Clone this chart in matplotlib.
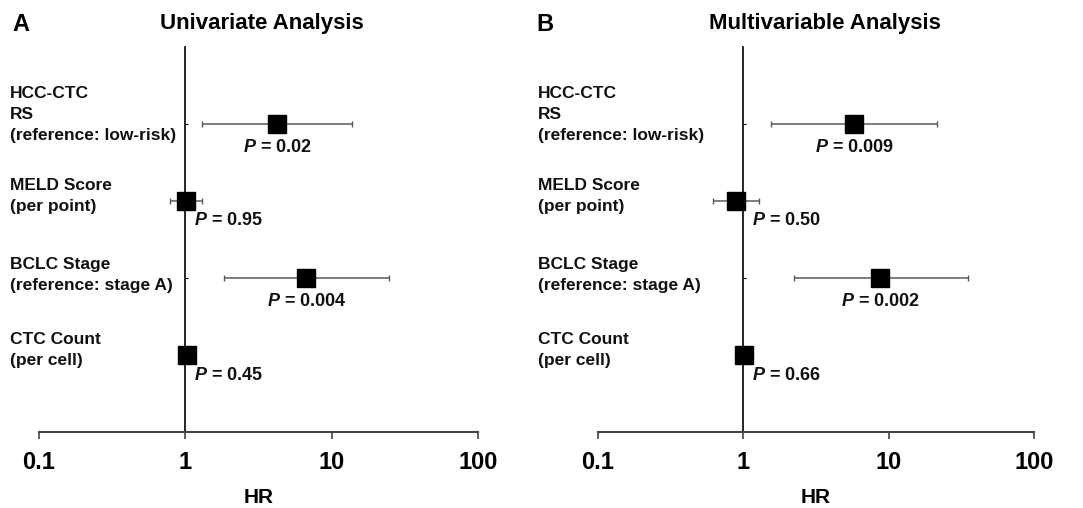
import matplotlib
matplotlib.use("Agg")
import matplotlib.pyplot as plt
import matplotlib.transforms as mtransforms

plt.rcParams['font.family'] = ['Liberation Sans', 'DejaVu Sans']
plt.rcParams['font.weight'] = 'bold'
plt.rcParams['mathtext.fontset'] = 'custom'
plt.rcParams['mathtext.bfit'] = 'Liberation Sans:italic:bold'
plt.rcParams['mathtext.rm'] = 'Liberation Sans:bold'

# data
row_labels = ["HCC-CTC\nRS\n(reference: low-risk)",
              "MELD Score\n(per point)",
              "BCLC Stage\n(reference: stage A)",
              "CTC Count\n(per cell)"]

uni_hr = [4.25, 1.01, 6.7, 1.02]
uni_lo = [1.31, 0.79, 1.85, 0.96]
uni_hi = [13.8, 1.31, 24.8, 1.08]
uni_p = ["0.02", "0.95", "0.004", "0.45"]

multi_hr = [5.8, 0.89, 8.75, 1.01]
multi_lo = [1.56, 0.62, 2.24, 0.96]
multi_hi = [21.5, 1.29, 35.2, 1.06]
multi_p = ["0.009", "0.50", "0.002", "0.66"]

tick_vals = [0.1, 1, 10, 100]
tick_labels = ["0.1", "1", "10", "100"]

fig = plt.figure(figsize=(10.83, 5.08), dpi=100)
fig.patch.set_facecolor('white')

ax_uni = fig.add_axes([0.036, 0.1496, 0.4054, 0.7579])
ax_multi = fig.add_axes([0.5522, 0.1496, 0.4026, 0.7579])

# offsets in points (label block shift, p-text shift)
label_shift = [7, 3.5, 2.5, 3.5]
p_shift = [-17, -14, -17, -15]


def draw_panel(ax, hr, lo, hi, pvals, label_x):
    rows = [1, 2, 3, 4]
    xerr = [[h - l for h, l in zip(hr, lo)], [u - h for h, u in zip(hr, hi)]]
    ax.errorbar(hr, rows, xerr=xerr, fmt='none', ecolor='#5a5a5a',
                elinewidth=1.1, capsize=2.5, capthick=1.0, zorder=2)
    ax.plot(hr, rows, 's', color='black', markersize=13, zorder=3)

    ax.set_xscale('log')
    ax.set_xlim(0.1, 100)
    ax.set_ylim(5, 0)
    ax.set_xticks(tick_vals)
    ax.set_xticklabels(tick_labels, fontsize=17, fontweight='bold')
    ax.minorticks_off()
    ax.tick_params(axis='x', direction='out', length=5, width=1.2,
                   color='#444444', pad=9)
    ax.set_yticks(rows)
    ax.set_yticklabels([])
    ax.tick_params(axis='y', direction='in', length=2, width=0.8)

    ax.spines['top'].set_visible(False)
    ax.spines['right'].set_visible(False)
    ax.spines['left'].set_position(('data', 1))
    ax.spines['left'].set_linewidth(1.2)
    ax.spines['bottom'].set_linewidth(1.5)
    ax.spines['bottom'].set_color('#444444')
    ax.set_facecolor('none')

    ax.set_xlabel("HR", fontsize=15, fontweight='bold', labelpad=10)

    trans = mtransforms.blended_transform_factory(fig.transFigure, ax.transData)
    for i, lab in enumerate(row_labels):
        ax.annotate(lab, xy=(label_x, rows[i]), xycoords=trans,
                    xytext=(0, label_shift[i]), textcoords='offset points',
                    ha='left', va='center', fontsize=12.5, fontweight='bold',
                    linespacing=1.5, color='#111111', annotation_clip=False)

    for i, p in enumerate(pvals):
        txt = r"$\mathbfit{P}$ = " + p
        if i in (0, 2):
            ax.annotate(txt, xy=(hr[i], rows[i]), xytext=(0, p_shift[i]),
                        textcoords='offset points', ha='center', va='center',
                        fontsize=13, fontweight='bold', color='#111111')
        else:
            ax.annotate(txt, xy=(1, rows[i]), xytext=(6, p_shift[i]),
                        textcoords='offset points', ha='left', va='center',
                        fontsize=13, fontweight='bold', color='#111111')


draw_panel(ax_uni, uni_hr, uni_lo, uni_hi, uni_p, 0.0092)
draw_panel(ax_multi, multi_hr, multi_lo, multi_hi, multi_p, 0.4965)

fig.text(0.011, 0.951, "A", fontsize=17, fontweight='bold', va='center', ha='left')
fig.text(0.495, 0.951, "B", fontsize=17, fontweight='bold', va='center', ha='left')
fig.text(0.242, 0.953, "Univariate Analysis", fontsize=16, fontweight='bold',
         va='center', ha='center')
fig.text(0.762, 0.953, "Multivariable Analysis", fontsize=16, fontweight='bold',
         va='center', ha='center')

fig.savefig("out.png", dpi=100)
